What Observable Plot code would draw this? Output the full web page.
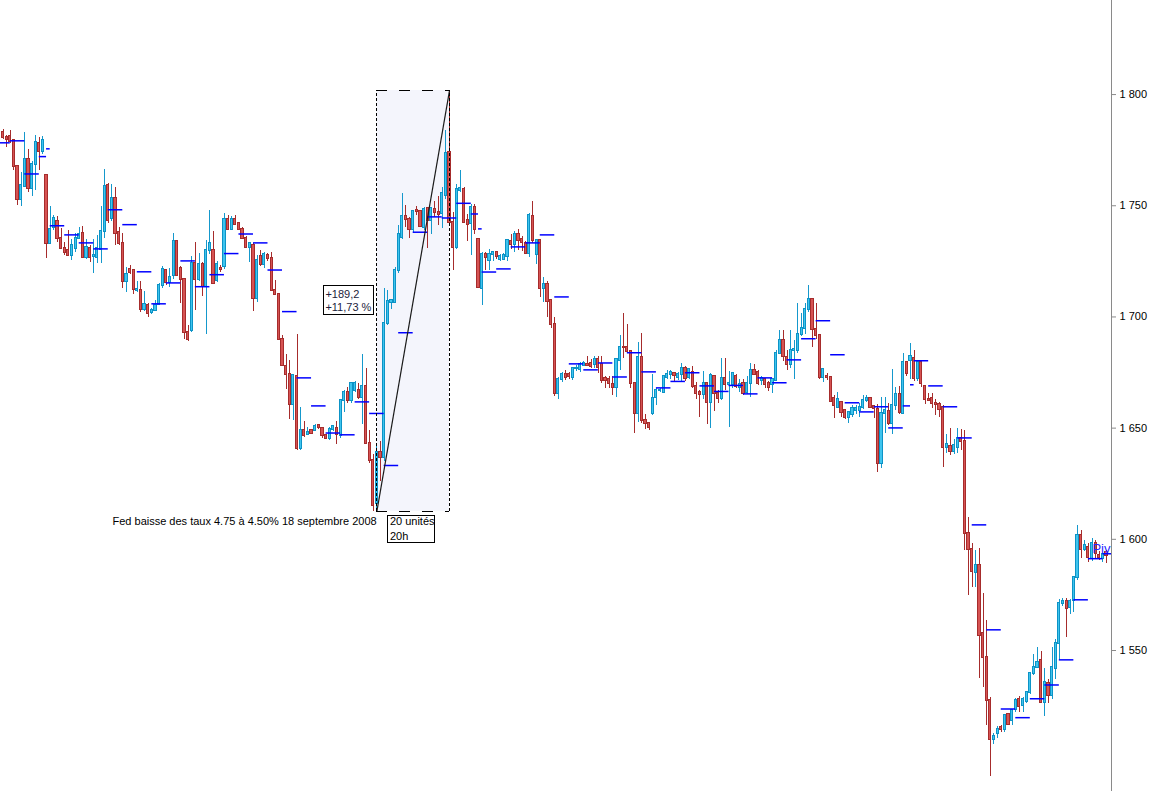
<!DOCTYPE html>
<html>
<head>
<meta charset="utf-8">
<script src="https://cdn.jsdelivr.net/npm/d3@7"></script>
<script src="https://cdn.jsdelivr.net/npm/@observablehq/plot@0.6"></script>
<style>
html, body { margin: 0; padding: 0; background: #fff; overflow: hidden; }
#chart svg { display: block; }
</style>
</head>
<body>
<div id="chart"></div>
<script>
// Hourly candles [open, high, low, close], first row is hour index -1 (partly outside the left edge)
const week1 = [
[1775,1783,1774,1779],[1783,1784.5,1780,1780.7],[1780.5,1781.5,1776,1780],[1781,1784,1778,1779],
[1779.5,1780,1766,1767.6],[1767.6,1768,1750,1752.8],[1752.8,1765,1749.6,1759],[1758.6,1783,1758,1771],
[1771,1775.3,1756,1757.7],[1757.7,1770,1754,1768.5],[1768.5,1781.6,1757,1778.4],[1778,1780.7,1766,1774.4],
[1774.4,1781,1773,1779.3]
];
const week2 = [
[1763.6,1764,1726.3,1733],[1733,1749.6,1732.5,1739.3],[1740,1745.5,1739,1744.2],[1743,1745,1733.7,1735.3],
[1735.3,1739.8,1730.5,1730.8],[1730.8,1733.5,1727.6,1729],[1730,1739,1727,1727.6],[1727.6,1735,1725.5,1732],
[1731,1737.5,1729,1735.3],[1735.5,1740.2,1735,1737],[1737.5,1740.5,1726.5,1726.7],[1726.7,1735,1726,1731.2],
[1730.8,1732,1724.5,1726.7],[1727,1734.8,1719.5,1727.5],[1726.7,1736.6,1724,1730.8],[1730.4,1749.6,1724,1738.4],
[1738.4,1766.3,1735.3,1758.6],[1759,1760,1742,1743.3],[1744.2,1759.5,1743,1753.2],[1753.2,1758,1732,1737.5],
[1737.9,1740.2,1732,1733],[1733,1737.5,1713,1716],[1716,1722.2,1711,1719],[1721.3,1723.1,1719,1720],
[1721,1721.5,1710,1712.3],[1711.9,1716,1711,1712.5],[1712,1716,1702,1703.3],[1703.3,1711.4,1702.5,1705.6],
[1705,1706,1699.7,1701.5],[1702,1704,1701,1703],[1702.9,1707.3,1702.5,1705.1],[1705.6,1715,1705,1714.1],
[1714.1,1722.7,1713,1721.3],[1721,1721.5,1714,1715.5],[1715.5,1722,1713.2,1717.7],[1718.6,1737.5,1717,1734],
[1734,1734.5,1718,1718.6],[1722,1722.5,1706,1716.8],[1716.8,1717,1690,1693],[1693,1696,1689,1690],
[1694,1727,1693,1724],[1724,1733.5,1703,1717],[1716.8,1728.5,1716,1723.6],[1723.5,1724.5,1709,1713.6],
[1713.6,1734.3,1692.3,1730.1],[1730,1748,1728,1733],[1729.8,1738.5,1714.5,1715.1],[1716.3,1725,1715.5,1723.5],
[1722,1723,1720,1721.5],[1722.7,1746.3,1721.5,1743.7],[1743.7,1745.5,1739,1739.5],[1739.5,1745,1739,1744],
[1743.7,1745.5,1741,1741.5],[1741.8,1742,1739,1739.5],[1739.5,1740,1735,1735.5],[1735.5,1736,1731,1731.3],
[1731.3,1733.6,1724.5,1733.1],[1732,1733,1702.5,1708.5],[1708.5,1727.5,1706.5,1725.6],[1727,1729.8,1722.6,1723.8],
[1723.8,1729,1722,1728],[1727.5,1728.6,1725,1726.5],[1726.5,1729,1711.5,1711.8],[1711.8,1716.3,1709.5,1710],
[1710,1710.3,1689.5,1690],[1690,1691.5,1677.5,1678],[1677.8,1683.3,1667.5,1674.3],[1674.3,1680.3,1654,1660.5],
[1660.5,1674.3,1653.3,1673.5],[1673,1692.3,1639.8,1641],[1641,1659.3,1640,1649.1],[1649.1,1652.8,1645.8,1646.8],
[1647.3,1650.3,1647,1648],[1649.1,1649.6,1647,1647.7],[1649.1,1651.8,1648.5,1650.8],[1651.4,1651.8,1649.5,1650.3],
[1650,1650.3,1645.5,1646.5],[1646.5,1647.3,1645,1645.5],[1645.5,1650.3,1644.3,1649.6],[1649.6,1651.2,1648.5,1650.6],
[1650,1652.8,1642.5,1647.3],[1646.5,1662.5,1645.5,1662.3],[1662.3,1666.8,1657,1665.8],[1665.8,1668.3,1661,1662.3],
[1662.3,1670.5,1661,1670],[1667,1671,1666,1670.1],[1667.1,1670,1663,1663.8],[1663.8,1683.3,1651.8,1668.5],
[1668.5,1677,1643,1643.3],[1643.3,1648.8,1634,1635.6],[1635.6,1638.3,1612.6,1615.2],[1616,1643,1612.6,1639],
[1639,1644,1626,1637],[1637,1712.6,1635,1697],[1697,1711.9,1696,1706.9],[1706.5,1707.5,1703.5,1707.3],
[1706.5,1722.3,1706,1720.8],[1720.8,1741,1719.5,1737],[1735.8,1755.3,1735,1745.1],[1745,1750,1740,1743.9],
[1743.6,1744.8,1735.1,1739.4],[1739.4,1748,1738,1747.4],[1748,1749.5,1745.5,1747.4],[1747.4,1748,1740,1740.8],
[1740.3,1749,1739,1748.1],[1748.6,1749,1731,1743.3],[1743.3,1749,1736.9,1748.6],[1748.1,1751.8,1744.5,1747.1],
[1747,1754,1741,1746],[1746.6,1758.3,1739.6,1755.3],[1754.6,1783.8,1753,1773.6],[1774,1801.8,1741,1742.5],
[1742.5,1747,1720.8,1731.3],[1731.3,1759.5,1730.5,1757.5],[1757,1765.8,1756,1757.6],[1757.3,1758,1741.8,1742.6],
[1743.3,1746,1734,1741.5],[1742.1,1750.5,1727.6,1749.3],[1749.3,1750.5,1737,1739.1]
];
const week3 = [
[1734.8,1735.5,1712.6,1713.3],[1713,1729,1705.1,1728.3],[1728.3,1729,1720.8,1726.8],[1725.3,1730.5,1721,1728.3],
[1728,1729.5,1725,1728.8],[1728.8,1729.5,1726,1727.3],[1725.8,1728,1725,1727.2],[1726,1728.5,1725.3,1727.6],
[1727.3,1735,1725,1734.3],[1734,1737,1730.5,1732.8],[1732.8,1738.5,1728.8,1737],[1737,1739.5,1730,1734.6],
[1735,1736,1729.3,1733.6],[1733.1,1734,1728,1728.6],[1728.6,1746.5,1726.8,1745.6],[1745.1,1751.8,1733,1734.3],
[1728.3,1735,1723.8,1734.3],[1734.3,1735,1708.8,1713],[1713,1717.8,1706.6,1714.5],[1714.5,1716,1699.8,1707],
[1707.3,1708,1695,1696.8],[1696.8,1699.8,1664.2,1665.4],[1665.4,1672.6,1663,1671.8],[1672,1675,1670.5,1674],
[1674,1676,1671.5,1672.8],[1674,1675,1672,1673],[1672.6,1677.4,1671.5,1676.6],[1676.6,1678,1675.5,1676.8],
[1676.3,1679.5,1675,1678.6],[1678.3,1680,1677.5,1679],[1678.8,1682.2,1677.8,1678.3],[1679.2,1681,1677,1677.8],
[1678.6,1682,1677,1680.7],[1680.7,1682,1674.7,1677.1],[1678.6,1682,1670,1671.4],[1672.5,1673,1668,1671.3],
[1671.7,1673.4,1668,1670],[1669.6,1673,1664.5,1668.1],[1668.1,1681.5,1663.9,1680.7],[1680.4,1691.7,1676,1686.1],
[1686.4,1701.4,1681.2,1686.1],[1686.1,1696.6,1683.5,1684.6],[1684.6,1685,1667.7,1670.2],[1670.2,1670.5,1647.4,1656.4],
[1656.7,1688.7,1652.7,1681.6],[1681.6,1692.4,1652,1653.4],[1653.4,1656,1649.5,1652],[1652,1652.5,1649,1650.4],
[1656.7,1674.1,1655.7,1663.2],[1663.6,1668,1660,1666.9],[1666.8,1668,1666,1667],[1666.2,1673.5,1665.5,1673.2],
[1672.6,1676,1672,1674.1],[1674.1,1676,1672,1674.9],[1674.4,1675,1671,1673.5],[1672.8,1675,1671.5,1674.1],
[1674.1,1679,1670.5,1676.6],[1676.6,1677.5,1671,1672.2],[1672.6,1677,1672,1676.2],[1675.2,1677.5,1668,1668.9],
[1668.8,1670.5,1663,1665.7],[1666.2,1667,1655,1665],[1665,1675.6,1663,1670],[1670,1670.5,1651.5,1661.7],
[1661.7,1674.4,1650,1673.7],[1673,1673.5,1657.5,1665.7],[1665.7,1667,1661,1663.2],[1663.2,1681.5,1662.5,1672.2],
[1672.2,1681.5,1667,1669.6],[1669.6,1675.6,1650.4,1670],[1669.6,1675,1668,1674.4],[1673,1674,1668,1668.8],
[1668.1,1672,1666,1669.6],[1670,1672,1664.5,1665.7],[1665.9,1673.3,1665,1669.9],[1669.9,1679,1664,1676],
[1676,1678.6,1673.5,1674.1],[1675.2,1676,1669,1670],[1671.6,1673,1669,1672.4],[1671.8,1672.5,1668,1669.6],
[1670.2,1671,1666.5,1668.4],[1669.5,1672,1665.7,1671.9],[1671.4,1684.9,1671,1683.4],[1683.7,1693.9,1683,1689.4],
[1689.4,1694,1680,1682.4],[1681.6,1685,1676,1678.5],[1678.5,1693.9,1677,1684.9],[1684.9,1689.4,1672,1685.5],
[1684.9,1705.9,1683.4,1692.1],[1692.1,1701.4,1691,1694.7],[1694.7,1705.9,1692,1703.2],[1703.2,1714.2,1702,1707.7],
[1707.7,1708,1686.4,1694.2],[1694.2,1706.2,1690,1691.7],[1691.7,1692,1672,1672.6],[1672.6,1676.8,1670.7,1676.2],
[1673,1674.4,1671.5,1672.9],[1672.6,1673,1661.7,1662],[1663.2,1664.5,1654.3,1660.2],[1659.4,1666.2,1658.7,1662.9],
[1661.7,1662,1655,1657.2],[1657.9,1658.5,1654,1654.9],[1654.9,1657.3,1651.9,1656.9],[1656.2,1660.2,1655,1658.7],
[1657.9,1660,1656,1659],[1658,1660.9,1654.6,1659.4],[1659.1,1664.7,1658.4,1662.4],[1662.4,1664.7,1661.5,1663.2],
[1663.2,1663.5,1658.7,1659.4],[1659.7,1660,1654.2,1658.7],[1658.2,1660.5,1629.9,1633.9],[1633.9,1663.9,1632,1656.7],
[1656.4,1663.6,1647.4,1657.9],[1657.5,1661,1651,1652.2],[1652.2,1676.2,1647,1660.2],[1660,1668.1,1658,1665],
[1665,1668.8,1656,1657.2],[1656.7,1683.7,1656,1679.4],[1679.4,1680,1673,1674.4]
];
const week4 = [
[1680.2,1687.9,1671.7,1682.2],[1681.2,1684.9,1671,1672.5],[1672.5,1680.2,1671,1679.7],[1679.7,1680.5,1668.4,1670],
[1668.7,1669,1660.7,1662.7],[1663,1665.4,1662,1662.4],[1663.2,1665.4,1658.7,1661.2],[1661.2,1663,1655.8,1660.5],
[1660.5,1661.5,1655,1658.2],[1659.4,1660,1632.5,1641.2],[1641.2,1647.1,1638.4,1642.6],[1641.8,1649.7,1637.6,1639.6],
[1639.6,1644.9,1638,1642.2],[1641.4,1649.7,1638.4,1645.2],[1645.2,1649.2,1639.9,1644.1],[1644.1,1648.9,1594.9,1602.4],
[1602.4,1609.9,1574.7,1595.2],[1595.2,1597.9,1578.4,1585.6],[1585.2,1594.9,1578.4,1588.2],[1588.2,1595.7,1537.2,1556.7],
[1557.5,1575.5,1533.5,1546.7],[1546.7,1563.5,1516.2,1527.5],[1527.5,1529,1493.3,1509.8],[1509.8,1512.5,1507.7,1511.3],
[1512.5,1516,1510.3,1514.5],[1515.5,1516.3,1513,1514.3],[1514.3,1521.3,1513,1520.7],[1521.2,1521.5,1516.2,1516.7],
[1518.5,1523.3,1516.2,1523],[1523.3,1528.2,1522,1527.5],[1527.8,1529.3,1522,1525],[1525.2,1529,1522,1527.8],
[1527.2,1531.7,1526,1531.2],[1531.2,1540.2,1530,1539.5],[1539.5,1548.4,1538.7,1542.2],[1542.2,1551.2,1541.7,1544.7],
[1545.5,1549.7,1526,1526.8],[1526.8,1541.7,1520.3,1535.7],[1535.3,1536.8,1526,1529.7],[1529.7,1551.2,1528,1542.2],
[1541.7,1555,1537,1553],[1553,1572.9,1545.5,1571],[1571,1573.3,1570,1572],[1572,1573.3,1556,1569.1],
[1569.2,1573,1566,1572.1],[1572.5,1583,1567,1582.7],[1582.7,1606.3,1581.5,1601.8],[1601.8,1604,1591.3,1595.3],
[1595.3,1599.5,1594.3,1597.3],[1596.5,1598,1589.8,1591.7],[1591.3,1600.3,1590,1598],[1598.3,1599.5,1591.3,1593.8],
[1592.8,1594.3,1590.5,1591.7],[1591.5,1593.5,1589.8,1593],[1594,1595,1589,1592.8]
];
const firstHour = -1;

// 4-hour pivot steps: start hour of each step and its level
const pivotStart = [-1,2,6,10,12,13,17,21,25,29,33,37,41,45,49,53,57,61,65,69,73,77,81,85,89,93,97,101,105,109,113,117,121,125,129,131,132,136,140,144,148,152,156,160,164,168,172,176,180,184,188,192,196,200,204,208,212,216,220,224,228,232,236,240,244,248,250,251,255,259,263,267,271,275,279,283,287,291,295,299,303];
const pivotValue = [1778.3,1779.2,1764.3,1772.1,1775.6,1741,1736.9,1733.3,1730.6,1748.2,1741.5,1720.3,1705.9,1715.3,1725.2,1713.6,1719,1728.5,1737.3,1733.3,1721.1,1702.4,1672.6,1660,1647.8,1647,1661.8,1656.6,1633.2,1692.9,1738.1,1745,1744.5,1751.1,1746.3,1739.6,1720.2,1721.6,1731.5,1733.3,1736.9,1709,1678.9,1676.2,1679.3,1673,1683.9,1675.3,1668.1,1671,1674.9,1669,1666.5,1669.2,1665.4,1672.6,1670.4,1680.7,1690.2,1698.3,1683,1661.4,1657.3,1659.6,1650.1,1660,1669.5,1680.3,1669,1659.6,1645.6,1606.5,1559.3,1523.7,1519.8,1528.3,1534.5,1545.8,1572.8,1591.3,1593.5];

const yTicks = [1550, 1600, 1650, 1700, 1750, 1800];
const xDomain = [-0.689, 305.37];
const yDomain = [1486.6, 1842.3];

// measurement tool: from hour 103 to hour 123
const measureFrom = 103;
const measureTo = 123;
const noteText = "Fed baisse des taux 4.75 à 4.50% 18 septembre 2008";
const unitLines = ["20 unités", "20h"];
const pivotLabel = "Piv";

const FONT = "'Liberation Sans', Arial, Helvetica, sans-serif";
const rows = [...week1, ...week2, ...week3, ...week4];
const candles = rows.map((r, k) => ({i: k + firstHour, o: r[0], h: r[1], l: r[2], c: r[3]}));
const ups = candles.filter(d => d.c >= d.o);
const downs = candles.filter(d => d.c < d.o);
const segs = pivotStart.map((s, k) => ({
  x1: s,
  x2: k + 1 < pivotStart.length ? pivotStart[k + 1] : xDomain[1],
  y: pivotValue[k]
}));
const inBox = candles.filter(d => d.i >= measureFrom && d.i <= measureTo);
const low = d3.min(inBox, d => d.l);
const high = d3.max(inBox, d => d.h);
const box = [{x1: measureFrom, x2: measureTo, y1: low, y2: high}];
const sides = [{x: measureFrom}, {x: measureTo}];
const edges = [{y: low}, {y: high}];

const fmtTick = d => d3.format(",")(d).replace(/,/g, " ");
const half = 0.3;
const body = (data, fill, stroke) => Plot.rect(data, {
  x1: d => d.i - half, x2: d => d.i + half,
  y1: d => Math.max(d.o, d.c), y2: d => Math.min(d.o, d.c),
  fill, stroke, strokeWidth: 1, insetTop: -0.5, insetBottom: -0.5,
  shapeRendering: "crispEdges"
});

const plot = Plot.plot({
  width: 1152, height: 791,
  marginLeft: 0, marginRight: 41, marginTop: 0, marginBottom: 0,
  style: {fontFamily: FONT, fontSize: "11px", background: "#fff"},
  x: {domain: xDomain, axis: null},
  y: {domain: yDomain, axis: null},
  marks: [
    Plot.rect(box, {x1: "x1", x2: "x2", y1: "y1", y2: "y2", fill: "#f4f5fc"}),
    Plot.ruleX(downs, {x: "i", y1: "l", y2: "h", stroke: "#a62c2c", strokeWidth: 1, shapeRendering: "crispEdges"}),
    Plot.ruleX(ups, {x: "i", y1: "l", y2: "h", stroke: "#1598cc", strokeWidth: 1, shapeRendering: "crispEdges"}),
    body(downs, "#d65353", "#a62c2c"),
    body(ups, "#3ec4ee", "#0d93c6"),
    Plot.ruleY(segs, {x1: "x1", x2: "x2", y: "y", stroke: "#0000ff", strokeWidth: 1.5, clip: true}),
    Plot.link(box, {x1: "x1", y1: "y1", x2: "x2", y2: "y2", stroke: "#1a1a1a", strokeWidth: 1.2}),
    Plot.ruleX(sides, {x: "x", y1: low, y2: high, stroke: "#000", strokeDasharray: "3,2", shapeRendering: "crispEdges"}),
    Plot.ruleY(edges, {y: "y", x1: measureFrom, x2: measureTo, stroke: "#000", strokeDasharray: "11,12", shapeRendering: "crispEdges"}),
    Plot.text([{x: xDomain[1], y: pivotValue[pivotValue.length - 1]}], {x: "x", y: "y", text: () => pivotLabel, textAnchor: "end", lineAnchor: "bottom", dx: -1, dy: -1, fill: "#2626ff", fontSize: 13}),
    Plot.ruleX([xDomain[1]], {stroke: "#8a8a8a", shapeRendering: "crispEdges"}),
    Plot.axisY(yTicks, {anchor: "right", tickSize: 4, tickPadding: 4, tickFormat: fmtTick, stroke: "#8a8a8a", fill: "#000", fontSize: 11, label: null})
  ]
});

document.getElementById("chart").appendChild(plot);

// annotation boxes positioned from the plot's own scales
const sx = plot.scale("x"), sy = plot.scale("y");
const X = v => sx.apply(v), Y = v => sy.apply(v);
const xl = X(measureFrom), yLo = Y(low), yHi = Y(high), yMid = (yLo + yHi) / 2;
const g = d3.select(plot).append("g")
  .attr("font-family", FONT).attr("font-size", 11).attr("text-anchor", "start");

const diff = high - low;
const pct = diff / low * 100;
const fr = (v, n) => (v >= 0 ? "+" : "") + v.toFixed(n).replace(".", ",");

g.append("rect").attr("x", Math.round(xl - 53) + 0.5).attr("y", Math.round(yMid - 15) + 0.5)
  .attr("width", 50).attr("height", 29).attr("fill", "#fff").attr("stroke", "#000");
g.append("text").attr("x", xl - 51).attr("y", yMid - 2).attr("text-anchor", "start").attr("fill", "#1c1c3c").text(fr(diff, 1));
g.append("text").attr("x", xl - 51).attr("y", yMid + 10.5).attr("text-anchor", "start").attr("fill", "#1c1c3c").text(fr(pct, 2) + " %");

g.append("rect").attr("x", Math.round(xl + 11) + 0.5).attr("y", Math.round(yLo + 4) + 0.5)
  .attr("width", 47).attr("height", 27).attr("fill", "#fff").attr("stroke", "#000");
unitLines.forEach((t, k) => {
  g.append("text").attr("x", xl + 13.5).attr("y", yLo + 14 + k * 15).attr("text-anchor", "start").attr("fill", "#000").text(t);
});

g.append("text").attr("x", xl + 0.3).attr("y", yLo + 14).attr("text-anchor", "end").attr("fill", "#000").text(noteText);
</script>
</body>
</html>
